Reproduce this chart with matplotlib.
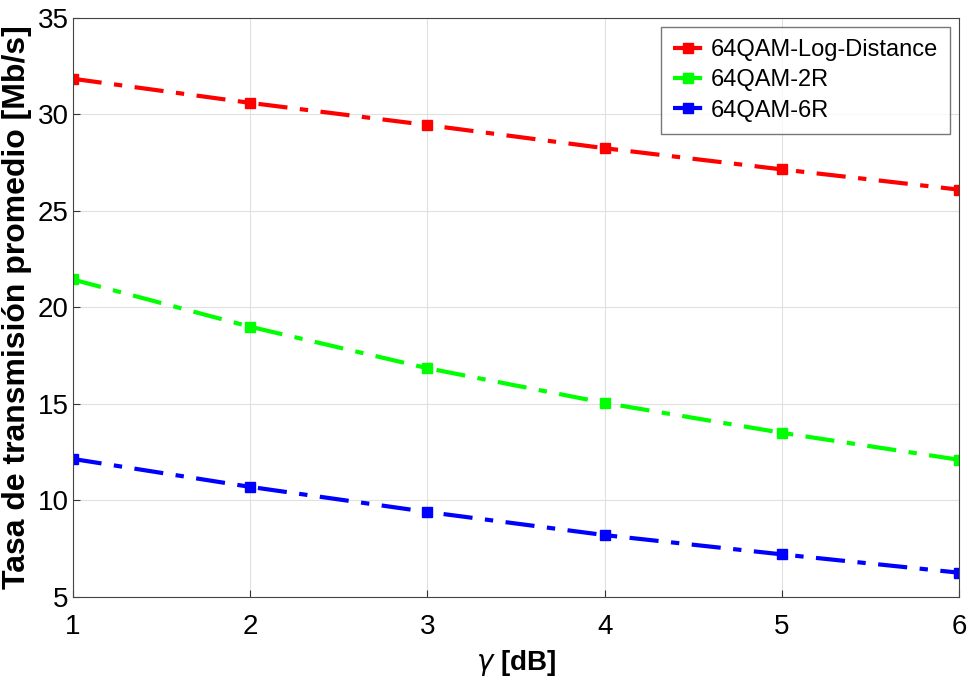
import matplotlib
matplotlib.use('Agg')
import matplotlib.pyplot as plt

plt.rcParams['font.family'] = ['Liberation Sans', 'DejaVu Sans']

# data
gamma_db = [1, 2, 3, 4, 5, 6]
log_distance = [31.85, 30.6, 29.45, 28.25, 27.15, 26.1]
two_r = [21.45, 19.0, 16.85, 15.05, 13.5, 12.1]
six_r = [12.15, 10.7, 9.4, 8.2, 7.2, 6.25]
labels = ['64QAM-Log-Distance', '64QAM-2R', '64QAM-6R']
colors = ['#ff0000', '#00ff00', '#0000ff']

fig = plt.figure(figsize=(9.69, 6.9), dpi=100)
ax = fig.add_axes([0.075, 0.135, 0.915, 0.839])

for ys, lab, c in zip([log_distance, two_r, six_r], labels, colors):
    ax.plot(gamma_db, ys, linestyle='-.', color=c, linewidth=3, marker='s',
            markersize=7, label=lab, dashes=(7, 3, 2, 3))

ax.set_xlim(1, 6)
ax.set_ylim(5, 35)
ax.set_xticks(gamma_db)
ax.set_yticks(range(5, 36, 5))
ax.grid(True, color='#e0e0e0', linewidth=0.8)
ax.tick_params(labelsize=20, direction='in', length=5, color='#333333')
ax.tick_params(axis='x', pad=12)
ax.tick_params(axis='y', pad=3)
for s in ax.spines.values():
    s.set_color('#444444')

ax.set_xlabel(r'$\gamma$ [dB]', fontsize=20, fontweight='bold', labelpad=6)
ax.set_ylabel('Tasa de transmisión promedio [Mb/s]', fontsize=23,
              fontweight='bold', labelpad=4)

leg = ax.legend(loc='upper right', fontsize=17, fancybox=False, edgecolor='#555555',
                handlelength=1.3, handletextpad=0.3, borderpad=0.5, labelspacing=0.35,
                borderaxespad=0.4)
leg.get_frame().set_linewidth(1.0)

fig.savefig('out.png', dpi=100)
